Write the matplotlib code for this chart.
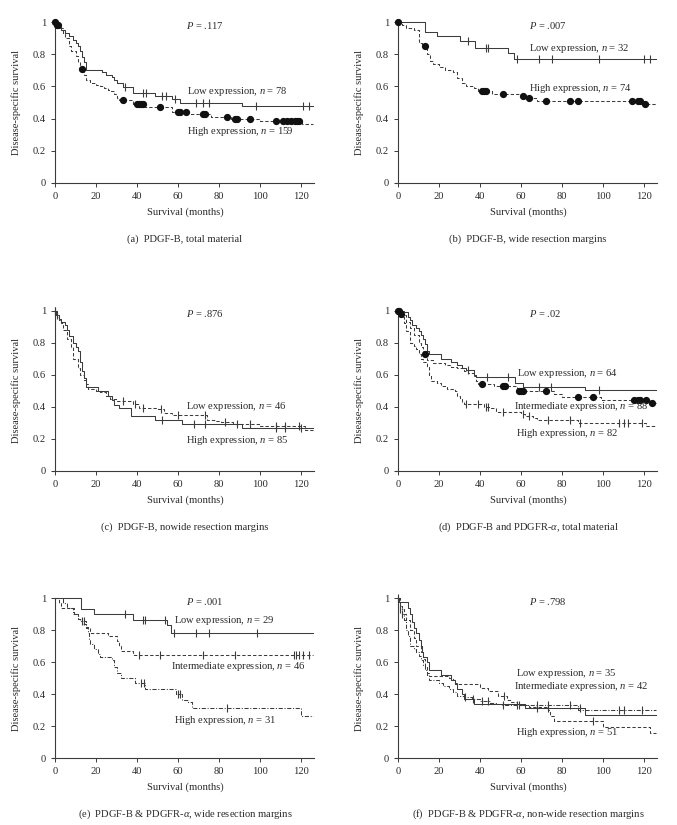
import numpy as np
import matplotlib
matplotlib.use("Agg")
import matplotlib.pyplot as plt

plt.rcParams['font.family'] = ['Liberation Serif', 'DejaVu Serif']
plt.rcParams['mathtext.fontset'] = 'custom'
plt.rcParams['mathtext.rm'] = 'Liberation Serif'
plt.rcParams['mathtext.it'] = 'Liberation Serif:italic'

# ---- data (months, survival) ----
# (a) total material
a_low_t = [1, 3, 5, 7, 9, 10, 11, 12, 13, 14, 15, 23, 25, 28, 29, 30, 33, 38, 49, 57, 61, 91]
a_low_s = [0.97, 0.95, 0.93, 0.91, 0.89, 0.87, 0.85, 0.82, 0.78, 0.75, 0.70, 0.69, 0.67, 0.66, 0.64, 0.62,
           0.595, 0.56, 0.54, 0.52, 0.50, 0.48]
a_low_c = [34, 43, 44.5, 52, 54, 58.5, 69, 72, 75, 98, 121, 124]
a_high_t = [0.5, 2, 4, 5, 7, 8, 10, 11, 12, 14, 15, 17, 20, 22, 24, 26, 27, 29, 30, 31, 38, 44, 57, 65,
            76, 86, 100, 120.5]
a_high_s = [0.98, 0.96, 0.93, 0.90, 0.85, 0.82, 0.79, 0.75, 0.71, 0.67, 0.64, 0.62, 0.61, 0.60, 0.59,
            0.58, 0.57, 0.55, 0.53, 0.515, 0.49, 0.47, 0.44, 0.43, 0.41, 0.40, 0.385, 0.365]
a_high_c = [0, 1, 1.5, 13, 33, 40, 41, 42, 43, 51, 60, 61, 64, 72, 73, 84, 88, 89, 95, 108, 111, 113,
            115, 117, 118, 119]

# (b) wide resection margins
b_low_t = [13, 19, 30, 37.5, 53.5, 56.5]
b_low_s = [0.94, 0.91, 0.88, 0.84, 0.81, 0.77]
b_low_c = [34, 43, 44, 58, 69, 75, 98, 120, 123]
b_high_t = [2, 4, 8, 10, 11.5, 14, 15.5, 17, 20, 23, 27, 29, 31, 33, 37, 39, 46, 60, 63, 68, 120]
b_high_s = [0.98, 0.96, 0.95, 0.87, 0.85, 0.80, 0.76, 0.74, 0.72, 0.70, 0.69, 0.65, 0.62, 0.60, 0.59,
            0.57, 0.555, 0.54, 0.525, 0.51, 0.49]
b_high_c = [0, 13, 41, 42, 43, 51, 61, 64, 72, 84, 88, 114, 117, 118, 120.5]

# (c) nowide resection margins
c_high_t = [0.5, 2, 3, 5, 6, 7, 9, 10, 11, 12, 13, 14, 15, 21, 26, 28, 29, 31, 37, 49, 62, 91]
c_high_s = [0.97, 0.95, 0.93, 0.91, 0.88, 0.84, 0.80, 0.77, 0.75, 0.68, 0.62, 0.58, 0.525, 0.50, 0.47,
            0.44, 0.41, 0.39, 0.34, 0.32, 0.295, 0.265]
c_high_c = [0, 1, 52, 68, 73, 108, 112, 120]
c_low_t = [1, 2, 3, 4, 6, 8, 9, 11, 12, 14, 15, 16, 20, 22, 25, 27, 30, 38, 41, 50, 53, 57, 74, 78,
           81, 87, 92, 100, 122]
c_low_s = [0.96, 0.94, 0.92, 0.88, 0.82, 0.77, 0.70, 0.64, 0.60, 0.57, 0.54, 0.51, 0.50, 0.49, 0.47,
           0.45, 0.435, 0.42, 0.395, 0.385, 0.36, 0.35, 0.32, 0.31, 0.305, 0.295, 0.29, 0.28, 0.255]
c_low_c = [0, 33, 39, 43, 51.5, 60, 73, 83, 89, 95, 108, 112, 119]

# (d) PDGF-B and PDGFR-a, total material
d_low_t = [3, 5, 6, 7, 9, 10, 11, 12, 13, 14, 15, 21, 26, 29, 31, 33, 37, 38, 57, 61, 91]
d_low_s = [0.99, 0.96, 0.94, 0.91, 0.89, 0.87, 0.85, 0.82, 0.79, 0.75, 0.73, 0.70, 0.68, 0.66, 0.64,
           0.63, 0.60, 0.585, 0.55, 0.525, 0.505]
d_low_c = [34, 43.5, 53.5, 69, 74.5, 98]
d_int_t = [1, 2, 4, 6, 8, 10, 11, 12, 14, 17, 23, 26, 29, 32, 34, 37, 38, 39, 47, 58, 59, 76, 80, 99, 123]
d_int_s = [0.98, 0.97, 0.93, 0.89, 0.85, 0.80, 0.77, 0.73, 0.69, 0.67, 0.66, 0.65, 0.64, 0.62, 0.61,
           0.59, 0.56, 0.54, 0.53, 0.51, 0.50, 0.48, 0.46, 0.445, 0.425]
d_int_c = [0, 0.5, 1.5, 13, 41, 51, 52, 59, 60, 61, 72, 88, 95, 115, 117, 118, 121, 124]
d_high_t = [1, 3, 4, 6, 8, 9, 10, 11, 12, 14, 15, 16, 19, 21, 24, 28, 29, 30, 31, 32, 42, 45, 48, 60,
            62, 66, 68, 88, 121]
d_high_s = [0.96, 0.92, 0.87, 0.80, 0.78, 0.76, 0.73, 0.70, 0.68, 0.65, 0.60, 0.56, 0.55, 0.53, 0.51,
            0.50, 0.47, 0.45, 0.43, 0.42, 0.40, 0.39, 0.37, 0.355, 0.34, 0.33, 0.32, 0.30, 0.28]
d_high_c = [33, 39, 43, 44, 51, 61, 64, 73, 84, 89, 108, 110, 112, 119]

# (e) PDGF-B & PDGFR-a, wide resection margins
e_low_t = [12.5, 19, 38, 54.5, 56.5]
e_low_s = [0.93, 0.90, 0.86, 0.83, 0.78]
e_low_c = [34, 43, 44, 53.5, 58, 69, 75, 98.5]
e_int_t = [2, 3, 9.5, 11, 13, 15, 17, 26, 30, 31, 32, 38]
e_int_s = [0.97, 0.935, 0.90, 0.87, 0.84, 0.81, 0.78, 0.76, 0.73, 0.70, 0.67, 0.645]
e_int_c = [41, 51, 72, 88, 116.5, 117.5, 119, 121, 124]
e_high_t = [4, 6, 9, 11, 12, 15, 16, 16.5, 17, 19, 21, 22, 28, 29, 30, 32, 39, 44, 59, 62, 65, 67, 120]
e_high_s = [0.97, 0.94, 0.90, 0.87, 0.855, 0.82, 0.78, 0.74, 0.71, 0.68, 0.65, 0.63, 0.61, 0.57, 0.53,
            0.50, 0.47, 0.43, 0.40, 0.36, 0.35, 0.31, 0.26]
e_high_c = [13, 14, 42, 43.5, 60, 61, 84]

# (f) PDGF-B & PDGFR-a, non-wide resection margins
f_low_t = [0.5, 5, 6, 7, 8, 9, 10, 11, 11.5, 12, 14, 15, 21, 26, 28, 29, 31, 32, 37, 62, 91]
f_low_s = [0.975, 0.94, 0.90, 0.85, 0.81, 0.78, 0.74, 0.70, 0.66, 0.63, 0.60, 0.55, 0.52, 0.49, 0.46,
           0.43, 0.40, 0.37, 0.34, 0.31, 0.27]
f_low_c = [0, 68, 73, 89]
f_int_t = [1, 2, 3, 4, 6, 8, 9, 11, 12, 13, 14, 15, 25, 27, 28, 29, 40, 44, 49, 53, 55, 58, 64, 73,
           74, 76, 100, 123]
f_int_s = [0.95, 0.93, 0.90, 0.86, 0.80, 0.75, 0.70, 0.66, 0.62, 0.57, 0.53, 0.515, 0.50, 0.49, 0.47,
           0.46, 0.44, 0.42, 0.39, 0.36, 0.35, 0.33, 0.32, 0.30, 0.26, 0.23, 0.195, 0.155]
f_int_c = [51.5, 95]
f_high_t = [1, 2, 3, 4, 5, 6, 8, 9, 10, 11, 12, 13, 14, 15, 20, 22, 25, 27, 29, 32, 36, 40, 45, 48, 50, 88]
f_high_s = [0.93, 0.90, 0.86, 0.80, 0.76, 0.70, 0.68, 0.66, 0.64, 0.61, 0.58, 0.55, 0.52, 0.49, 0.47,
            0.45, 0.43, 0.41, 0.39, 0.38, 0.37, 0.355, 0.345, 0.34, 0.33, 0.30]
f_high_c = [1, 2, 32.5, 36.5, 41, 44, 51, 58, 59, 68, 73, 84, 108, 110, 119]

p_values = ['.117', '.007', '.876', '.02', '.001', '.798']
captions = ['(a)  PDGF-B, total material',
            '(b)  PDGF-B, wide resection margins',
            '(c)  PDGF-B, nowide resection margins',
            '(d)  PDGF-B and PDGFR-$\\alpha$, total material',
            '(e)  PDGF-B & PDGFR-$\\alpha$, wide resection margins',
            '(f)  PDGF-B & PDGFR-$\\alpha$, non-wide resection margins']

LINE = '#3c3c3c'
TXT = '#2a2a2a'
SOLID = '-'
DASH = (0, (3.2, 2.0))
DASHDOT = (0, (4.0, 1.6, 1.0, 1.6))
FS = 7.6


def km(ax, t, s, cens, ls, marker):
    xs = np.r_[0, t, 126]
    ys = np.r_[1, s, s[-1]]
    ax.step(xs, ys, where='post', color=LINE, lw=0.75, ls=ls, clip_on=False)
    idx = np.searchsorted(t, cens, side='right')
    yc = np.r_[1, s][idx]
    if marker == 'o':
        ax.plot(cens, yc, ls='none', marker='o', ms=4.2, color='#111111', clip_on=False, zorder=3)
    else:
        ax.plot(cens, yc, ls='none', marker='|', ms=5.5, mew=0.8, color=LINE, clip_on=False, zorder=3)


W, H = 677, 825
fig = plt.figure(figsize=(W / 100, H / 100), dpi=100)

col_x0 = [55, 398]           # pixel of month 0
row_top = [22, 310.5, 598]   # pixel of survival 1
row_bot = [183, 471, 758]    # pixel of survival 0
px_per_month = 2.05

axes = []
for r in range(3):
    for c in range(2):
        left = col_x0[c] - 1.5 * px_per_month
        width = 128 * px_per_month
        ax = fig.add_axes([left / W, 1 - row_bot[r] / H, width / W, (row_bot[r] - row_top[r]) / H])
        ax.set_xlim(-1.5, 126.5)
        ax.set_ylim(0, 1)
        for sp in ['top', 'right']:
            ax.spines[sp].set_visible(False)
        ax.spines['left'].set_position(('data', 0))
        for sp in ['left', 'bottom']:
            ax.spines[sp].set_color(LINE)
            ax.spines[sp].set_linewidth(0.8)
        ax.set_xticks(range(0, 121, 20))
        ax.set_yticks([0, 0.2, 0.4, 0.6, 0.8, 1])
        ax.set_yticklabels(['0', '0.2', '0.4', '0.6', '0.8', '1'])
        ax.tick_params(direction='out', length=3, width=0.7, color=LINE, labelsize=FS,
                       labelcolor=TXT, pad=3.5)
        ax.patch.set_visible(False)
        mid_x = (col_x0[c] + 130) / W
        fig.text((col_x0[c] - 39) / W, 1 - (row_top[r] + row_bot[r]) / 2 / H,
                 'Disease-specific survival', rotation=90, ha='center', va='center',
                 fontsize=FS, color=TXT)
        fig.text(mid_x, 1 - (row_bot[r] + 29) / H, 'Survival (months)',
                 ha='center', va='center', fontsize=FS, color=TXT)
        fig.text(mid_x, 1 - (row_bot[r] + 56) / H, captions[r * 2 + c],
                 ha='center', va='center', fontsize=FS, color=TXT)
        ax.text(64, 0.98, '$P$ = ' + p_values[r * 2 + c], fontsize=FS, color=TXT, va='center')
        axes.append(ax)

ax = axes[0]
km(ax, a_low_t, a_low_s, a_low_c, SOLID, '|')
km(ax, a_high_t, a_high_s, a_high_c, DASH, 'o')
ax.text(64.5, 0.57, 'Low expression, $n$ = 78', fontsize=FS, color=TXT, va='center')
ax.text(64.5, 0.32, 'High expression, $n$ = 159', fontsize=FS, color=TXT, va='center')

ax = axes[1]
km(ax, b_low_t, b_low_s, b_low_c, SOLID, '|')
km(ax, b_high_t, b_high_s, b_high_c, DASH, 'o')
ax.text(64, 0.835, 'Low expression, $n$ = 32', fontsize=FS, color=TXT, va='center')
ax.text(64, 0.59, 'High expression, $n$ = 74', fontsize=FS, color=TXT, va='center')

ax = axes[2]
km(ax, c_high_t, c_high_s, c_high_c, SOLID, '|')
km(ax, c_low_t, c_low_s, c_low_c, DASH, '|')
ax.text(64, 0.40, 'Low expression, $n$ = 46', fontsize=FS, color=TXT, va='center')
ax.text(64, 0.19, 'High expression, $n$ = 85', fontsize=FS, color=TXT, va='center')

ax = axes[3]
km(ax, d_low_t, d_low_s, d_low_c, SOLID, '|')
km(ax, d_int_t, d_int_s, d_int_c, DASH, 'o')
km(ax, d_high_t, d_high_s, d_high_c, DASH, '|')
ax.text(58, 0.61, 'Low expression, $n$ = 64', fontsize=FS, color=TXT, va='center')
ax.text(56.4, 0.40, 'Intermediate expression, $n$ = 88', fontsize=FS, color=TXT, va='center')
ax.text(57.7, 0.232, 'High expression, $n$ = 82', fontsize=FS, color=TXT, va='center')

ax = axes[4]
km(ax, e_low_t, e_low_s, e_low_c, SOLID, '|')
km(ax, e_int_t, e_int_s, e_int_c, DASH, '|')
km(ax, e_high_t, e_high_s, e_high_c, DASHDOT, '|')
ax.text(58, 0.86, 'Low expression, $n$ = 29', fontsize=FS, color=TXT, va='center')
ax.text(56.6, 0.57, 'Intermediate expression, $n$ = 46', fontsize=FS, color=TXT, va='center')
ax.text(58, 0.235, 'High expression, $n$ = 31', fontsize=FS, color=TXT, va='center')

ax = axes[5]
km(ax, f_low_t, f_low_s, f_low_c, SOLID, '|')
km(ax, f_int_t, f_int_s, f_int_c, DASH, '|')
km(ax, f_high_t, f_high_s, f_high_c, DASHDOT, '|')
ax.text(57.8, 0.53, 'Low expression, $n$ = 35', fontsize=FS, color=TXT, va='center')
ax.text(56.5, 0.448, 'Intermediate expression, $n$ = 42', fontsize=FS, color=TXT, va='center')
ax.text(57.8, 0.158, 'High expression, $n$ = 51', fontsize=FS, color=TXT, va='center')

fig.savefig('out.png', dpi=100)
